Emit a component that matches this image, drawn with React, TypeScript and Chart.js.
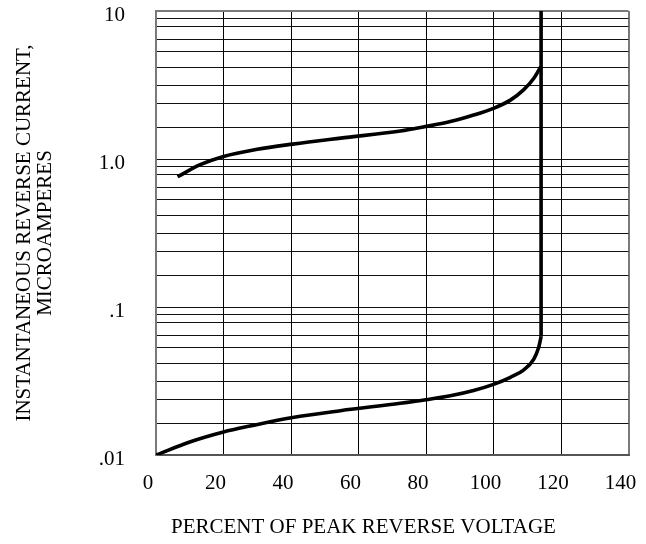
import { useEffect, useRef } from "react";
import { Chart, registerables } from "chart.js";

Chart.register(...registerables);

// ---- data ----
const xTickValues = [0, 20, 40, 60, 80, 100, 120, 140];
const yDecadeValues = [0.01, 0.1, 1, 10];
const yDecadeLabels = [".01", ".1", "1.0", "10"];
const yMinorFactors = [1.63, 2.36, 3.15, 4.14, 5.31, 6.44, 7.8, 8.93];

const upperX = [6.4, 13.1, 20, 30, 40.5, 54.7, 72.4, 79.5, 87.2, 94.1, 100, 105, 108.9, 111.9, 114.0];
const upperY = [0.759, 0.915, 1.04, 1.163, 1.261, 1.384, 1.545, 1.65, 1.789, 1.98, 2.2, 2.5, 2.93, 3.5, 4.2];

const lowerX = [0, 10, 20, 27.9, 40.5, 54.6, 72.4, 79.5, 87.2, 94.1, 100, 105, 108.9, 111.9, 113.3, 114.1];
const lowerY = [0.01, 0.01224, 0.0143, 0.0157, 0.01792, 0.01992, 0.02235, 0.02353, 0.02512, 0.02728, 0.03, 0.0335, 0.0375, 0.0443, 0.0526, 0.063];

const breakdownX = [114.1, 114.1];
const breakdownY = [0.063, 10];

const xTitle = "PERCENT OF PEAK REVERSE VOLTAGE";
const yTitle = ["INSTANTANEOUS REVERSE CURRENT,", "MICROAMPERES"];

const FONT = "'Liberation Serif', 'Times New Roman', serif";

const yGridValues: number[] = (() => {
  const out: number[] = [];
  for (let i = 0; i < yDecadeValues.length - 1; i++) {
    const d = yDecadeValues[i];
    out.push(d);
    yMinorFactors.forEach((f) => out.push(d * f));
  }
  out.push(yDecadeValues[yDecadeValues.length - 1]);
  return out;
})();

const toPoints = (xs: number[], ys: number[]) => xs.map((x, i) => ({ x, y: ys[i] }));

const xTitlePlugin = {
  id: "xTitleText",
  afterDraw(chart: any) {
    const { ctx, chartArea } = chart;
    ctx.save();
    ctx.font = `21px ${FONT}`;
    ctx.fillStyle = "#000";
    ctx.textAlign = "center";
    ctx.textBaseline = "middle";
    ctx.fillText(xTitle, chartArea.left + chartArea.width * 0.439, chartArea.bottom + 72);
    ctx.restore();
  },
};

export default function App() {
  const ref = useRef<HTMLCanvasElement | null>(null);

  useEffect(() => {
    if (!ref.current) return;
    const edgeY = (v: number) => Math.abs(v - 10) < 1e-9 || Math.abs(v - 0.01) < 1e-12;
    const edgeX = (v: number) => v === 0 || v === 140;
    const lineDs = (data: any[]) => ({
      data,
      borderColor: "#000",
      borderWidth: 3.6,
      pointRadius: 0,
      fill: false,
      cubicInterpolationMode: "monotone" as const,
    });
    const chart = new Chart(ref.current, {
      type: "line",
      data: {
        datasets: [
          lineDs(toPoints(upperX, upperY)),
          lineDs(toPoints(lowerX, lowerY)),
          { ...lineDs(toPoints(breakdownX, breakdownY)), cubicInterpolationMode: "default" as const, tension: 0 },
        ],
      },
      options: {
        animation: false,
        responsive: true,
        maintainAspectRatio: false,
        layout: { padding: { top: 11, right: 17.5, left: 0, bottom: 0 } },
        plugins: { legend: { display: false }, tooltip: { enabled: false } },
        scales: {
          x: {
            type: "linear",
            min: 0,
            max: 140,
            afterBuildTicks: (s: any) => {
              s.ticks = xTickValues.map((v) => ({ value: v }));
            },
            afterFit: (s: any) => {
              s.height = 89;
              s.paddingLeft = 0;
              s.paddingRight = 0;
            },
            ticks: {
              autoSkip: false,
              maxRotation: 0,
              padding: 16,
              labelOffset: -8,
              color: "#000",
              font: { family: FONT, size: 21 },
              callback: (v: any) => String(v),
            },
            grid: {
              drawTicks: false,
              color: (c: any) => (edgeX(c.tick?.value) ? "#7a7a7a" : "#000"),
              lineWidth: (c: any) => (edgeX(c.tick?.value) ? 2 : 1),
            },
            border: { display: true, color: "#555", width: 2 },
          },
          y: {
            type: "logarithmic",
            min: 0.01,
            max: 10,
            afterBuildTicks: (s: any) => {
              s.ticks = yGridValues.map((v) => ({ value: v }));
            },
            afterFit: (s: any) => {
              s.width = 156;
              s.paddingTop = 0;
              s.paddingBottom = 0;
            },
            ticks: {
              autoSkip: false,
              padding: 31,
              labelOffset: 4,
              color: "#000",
              font: { family: FONT, size: 21 },
              callback: (v: any) => {
                const i = yDecadeValues.findIndex((d) => Math.abs(Math.log10(Number(v) / d)) < 1e-6);
                return i >= 0 ? yDecadeLabels[i] : "";
              },
            },
            grid: {
              drawTicks: false,
              color: (c: any) => (edgeY(c.tick?.value) ? "#7a7a7a" : "#111"),
              lineWidth: (c: any) => (edgeY(c.tick?.value) ? 2 : 1),
            },
            border: { display: true, color: "#7a7a7a", width: 2 },
            title: {
              display: true,
              text: yTitle,
              color: "#000",
              font: { family: FONT, size: 21, lineHeight: 1.0 },
              padding: { top: 14, bottom: 0 },
            },
          },
        },
      },
      plugins: [xTitlePlugin],
    });
    return () => chart.destroy();
  }, []);

  return (
    <div style={{ position: "fixed", left: 0, top: 0, width: 646, height: 544, background: "#fff" }}>
      <canvas ref={ref} />
    </div>
  );
}
